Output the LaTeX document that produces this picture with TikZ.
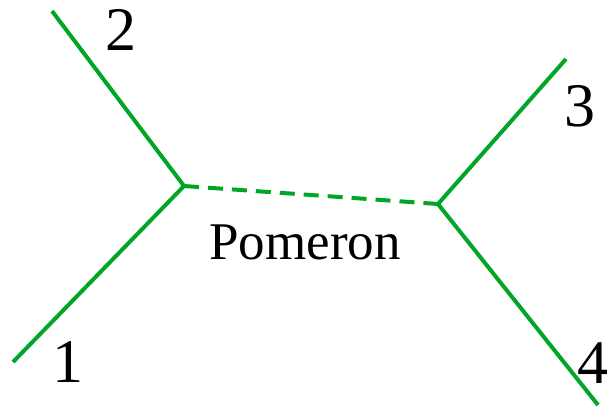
\documentclass[tikz,border=0pt]{standalone}
\usepackage{fontspec}
\setmainfont{Liberation Serif}
\usetikzlibrary{positioning}
\definecolor{LegGreen}{RGB}{0,166,40}
\tikzset{
    % Particle leg style
    legline/.style={
        draw=LegGreen,
        line width=4pt
    },
    % Exchange (pomeron) line style
    pomline/.style={
        legline,
        dash pattern=on 15pt off 9pt
    },
    % Leg number style
    legnum/.style={
        inner sep=0pt,
        font=\fontsize{62}{62}\selectfont
    },
    % Exchange label style
    pomlabel/.style={
        inner sep=0pt,
        font=\fontsize{53}{53}\selectfont
    }
}

\begin{document}
\begin{tikzpicture}[x=1pt, y=-1pt]
    \useasboundingbox (0,0) rectangle (609,412);

    % vertices and leg ends
    \coordinate (vleft) at (184,186);
    \coordinate (vright) at (438,204);
    \coordinate (end1) at (13,362);
    \coordinate (end2) at (52,11);
    \coordinate (end3) at (566,59);
    \coordinate (end4) at (598,405);

    \node[legnum] (num1) at (68,362) {1};
    \node[legnum] (num2) at (121,30) {2};
    \node[legnum] (num3) at (580,106) {3};
    \node[legnum] (num4) at (593,363) {4};
    \node[pomlabel] (pom) at (305,242) {Pomeron};

    \draw[legline] (end2) -- (vleft);
    \draw[legline] (end1) -- (vleft);
    \draw[pomline] (vleft) -- (vright);
    \draw[legline] (vright) -- (end3);
    \draw[legline] (vright) -- (end4);
\end{tikzpicture}
\end{document}
